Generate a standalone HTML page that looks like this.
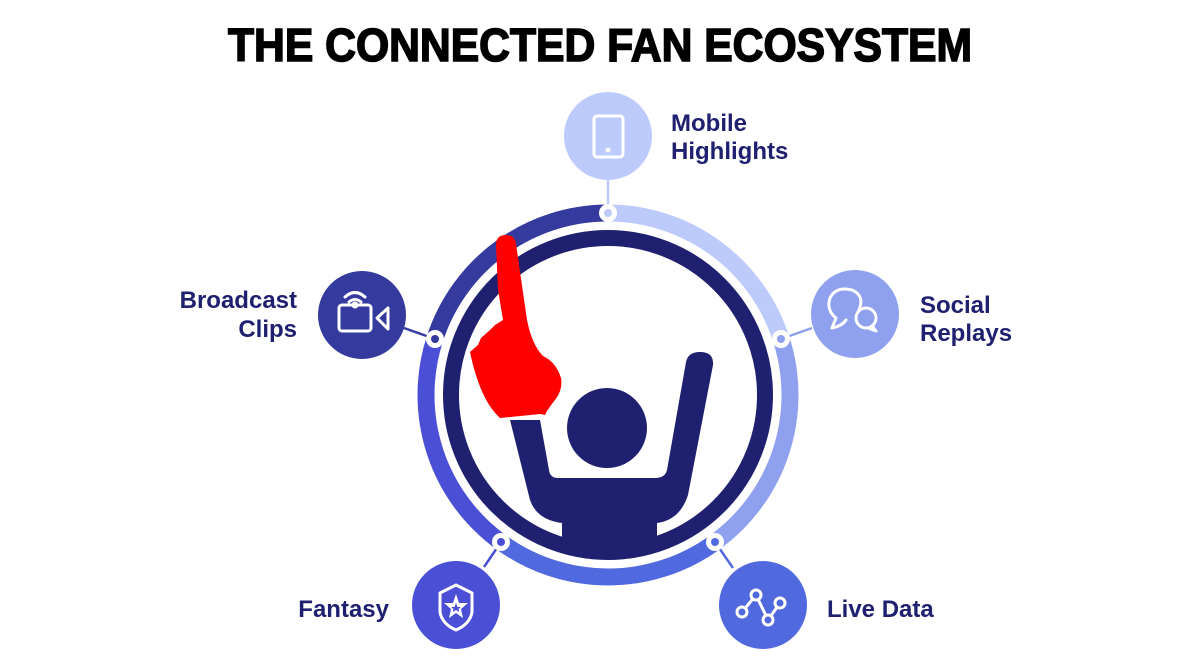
<!DOCTYPE html>
<html><head><meta charset="utf-8"><style>
html,body{margin:0;padding:0;background:#fff;width:1200px;height:662px;overflow:hidden}
svg{display:block}
.lbl{font-family:"Liberation Sans",sans-serif;font-weight:bold;font-size:24px;fill:#1f2070}
</style></head><body>
<svg width="1200" height="662" viewBox="0 0 1200 662" xmlns="http://www.w3.org/2000/svg">
<text x="600" y="61" text-anchor="middle" font-family="Liberation Sans,sans-serif" font-weight="bold" font-size="46" textLength="744" lengthAdjust="spacingAndGlyphs" fill="#000" stroke="#000" stroke-width="1.6">THE CONNECTED FAN ECOSYSTEM</text>

<!-- connectors -->
<g stroke-width="2.5">
<line x1="608" y1="180" x2="608" y2="213" stroke="#bccafc"/>
<line x1="781" y1="339" x2="812" y2="328" stroke="#8fa1ee"/>
<line x1="715" y1="542" x2="733" y2="568" stroke="#5169de"/>
<line x1="501" y1="542" x2="484" y2="567" stroke="#4a4fd6"/>
<line x1="435" y1="339" x2="404" y2="328" stroke="#343a9e"/>
</g>

<!-- outer ring segments -->
<g fill="none" stroke-width="17">
<path d="M608 213 A182 182 0 0 1 781.1 338.8" stroke="#bccafc"/>
<path d="M781.1 338.8 A182 182 0 0 1 715 542.2" stroke="#8fa1ee"/>
<path d="M715 542.2 A182 182 0 0 1 501 542.2" stroke="#5169de"/>
<path d="M501 542.2 A182 182 0 0 1 434.9 338.8" stroke="#4a4fd6"/>
<path d="M434.9 338.8 A182 182 0 0 1 608 213" stroke="#343a9e"/>
</g>
<!-- node dots -->
<g fill="#fff">
<circle cx="608" cy="213" r="9"/><circle cx="781" cy="339" r="9"/><circle cx="715" cy="542" r="9"/><circle cx="501" cy="542" r="9"/><circle cx="435" cy="339" r="9"/>
</g>
<circle cx="608" cy="213" r="4" fill="#bccafc"/>
<circle cx="781" cy="339" r="4" fill="#8fa1ee"/>
<circle cx="715" cy="542" r="4" fill="#5169de"/>
<circle cx="501" cy="542" r="4" fill="#4a4fd6"/>
<circle cx="435" cy="339" r="4" fill="#343a9e"/>

<!-- inner ring -->
<circle cx="608" cy="395" r="157" fill="none" stroke="#1f2070" stroke-width="16"/>
<clipPath id="c"><circle cx="608" cy="395" r="160"/></clipPath>
<g clip-path="url(#c)" fill="#1f2070">
<circle cx="607" cy="428" r="40"/>
<path d="M510 420 L530 500 Q537 520 562 523 L562 570 L657 570 L657 523 Q680 520 688 495 L713 365 Q714 352 700 352 Q688 352 686 362 L667 470 Q665 478 655 478 L558 478 Q550 478 549 470 L540 420 Z"/>
</g>
<!-- red foam finger -->
<path fill="#ff0000" d="M496 245 Q496 235 506 235 Q515 235 516 244 L527 320 Q532 345 543 356 Q556 362 561 378 Q563 390 555 400 Q547 410 545 415 L540 414 L500 418 Q480 400 470 352 L478 345 L481 338 L490 330 L495 325 L503 320 L498 290 Z"/>

<!-- icon circles -->
<circle cx="608" cy="136" r="44" fill="#bccafc"/>
<circle cx="855" cy="314" r="44" fill="#8fa1ee"/>
<circle cx="763" cy="605" r="44" fill="#5169de"/>
<circle cx="456" cy="605" r="44" fill="#4a4fd6"/>
<circle cx="362" cy="315" r="44" fill="#343a9e"/>

<!-- icons -->
<g fill="none" stroke="#fff" stroke-width="3" stroke-linejoin="round" stroke-linecap="round">
<rect x="594" y="116" width="29" height="41" rx="3"/>
<path d="M858 312 Q866 296 852 290 Q836 286 830 298 Q826 310 836 318 L832 328 Q842 326 846 320"/>
<circle cx="866" cy="318" r="10"/>
<path d="M872 326 L876 331 L868 328"/>
<polyline points="742,612 756,595 768,620 780,603"/>
<path d="M440 593 L456 585 L472 593 L472 612 Q470 624 456 630 Q442 624 440 612 Z"/>
<rect x="339" y="305" width="32" height="26" rx="3"/>
<path d="M377 318 L388 308 L388 329 Z"/>
<path d="M345 297 Q355 288 365 297"/>
<path d="M349 302 Q355 297 361 302"/>
</g>
<g fill="#fff">
<circle cx="608" cy="150" r="2.5"/>
<circle cx="355" cy="305" r="3.5"/>
<polygon points="456,594 459,603 468,603 461,609 463,618 456,613 449,618 451,609 444,603 453,603"/>
</g>
<polygon points="456,603 457.5,607 461,607 458.5,609 459,612 456,610 453,612 453.5,609 451,607 454.5,607" fill="#4a4fd6"/>
<g fill="#5169de" stroke="#fff" stroke-width="3">
<circle cx="742" cy="612" r="5"/><circle cx="756" cy="595" r="5"/><circle cx="768" cy="620" r="5"/><circle cx="780" cy="603" r="5"/>
</g>

<!-- labels -->
<text class="lbl" x="671" y="131">Mobile</text>
<text class="lbl" x="671" y="159">Highlights</text>
<text class="lbl" x="920" y="313">Social</text>
<text class="lbl" x="920" y="341">Replays</text>
<text class="lbl" x="297" y="308" text-anchor="end">Broadcast</text>
<text class="lbl" x="297" y="337" text-anchor="end">Clips</text>
<text class="lbl" x="389" y="617" text-anchor="end">Fantasy</text>
<text class="lbl" x="827" y="617">Live Data</text>
</svg>
</body></html>
